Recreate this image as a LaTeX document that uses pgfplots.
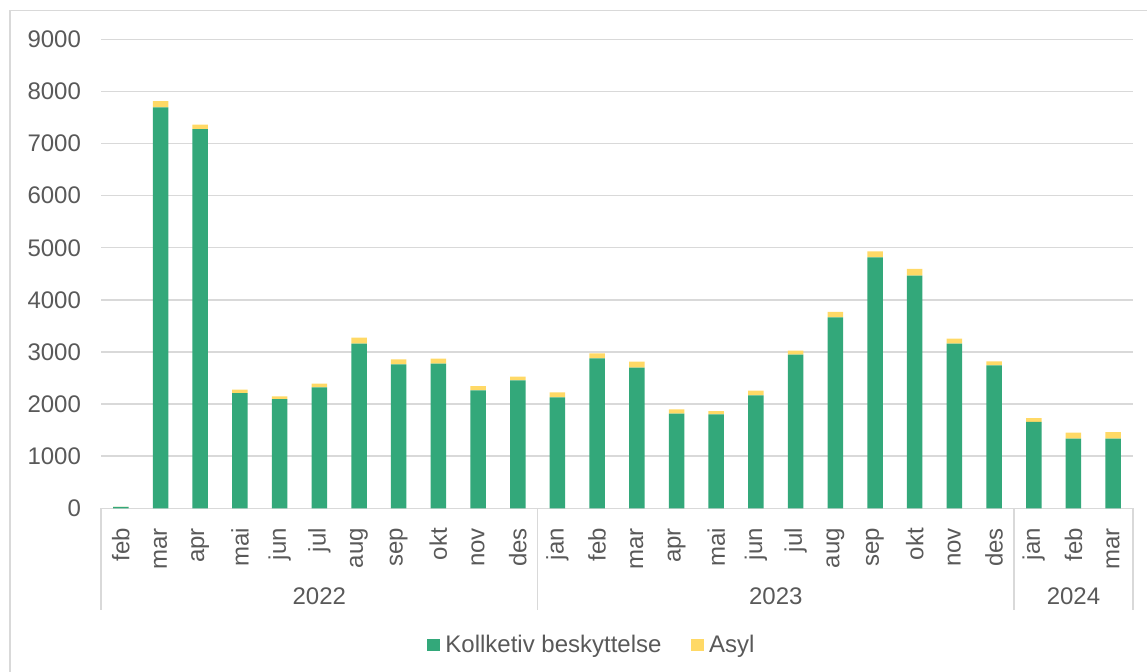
\documentclass[border=0pt]{standalone}
\usepackage{fontspec}
\setmainfont{Liberation Sans}
\usepackage{pgfplots}
\pgfplotsset{compat=1.18}
\definecolor{kgreen}{HTML}{33A87A}
\definecolor{kyellow}{HTML}{FFD966}
\definecolor{textgray}{HTML}{595959}
\definecolor{gridgray}{HTML}{D9D9D9}
\begin{document}
\begin{tikzpicture}[x=1pt,y=1pt]
\useasboundingbox (0,0) rectangle (573.5,336);
\draw[gridgray, line width=0.65pt] (5,0) -- (5,330.65) -- (573.5,330.65);
\begin{axis}[
  at={(50.5pt,81.85pt)}, anchor=south west,
  scale only axis, width=516pt, height=234.5pt,
  ybar stacked, bar width=7.75pt,
  xmin=-0.5, xmax=25.5, ymin=0, ymax=9000,
  ytick={0,1000,...,9000},
  xtick={0,...,25},
  xticklabels={feb,mar,apr,mai,jun,jul,aug,sep,okt,nov,des,jan,feb,mar,apr,mai,jun,jul,aug,sep,okt,nov,des,jan,feb,mar},
  major tick length=0pt,
  axis line style={draw=none},
  ymajorgrids, grid style={gridgray, line width=0.75pt},
  /pgf/number format/.cd, 1000 sep={}, assume math mode=true, /pgfplots/.cd,
  yticklabel style={font=\fontsize{12}{14}\selectfont, text=textgray},
  xticklabel style={font=\fontsize{12}{14}\selectfont, text=textgray, rotate=90, anchor=east},
  yticklabel shift=6.5pt,
  xticklabel shift=6.4pt,
  clip=false,
  legend style={draw=none, fill=none, at={(0.4775,-0.2915)}, anchor=center,
    legend columns=2, font=\fontsize{12}{14}\selectfont, text=textgray,
    /tikz/every even column/.append style={column sep=12pt},
    nodes={inner xsep=2.8pt}},
  legend image code/.code={\fill[#1] (0pt,-3.1pt) rectangle (6.2pt,3.1pt);},
]
\addplot[fill=kgreen, draw=none] coordinates {
(0,25) (1,7692) (2,7275) (3,2211) (4,2096) (5,2319) (6,3160) (7,2762) (8,2775) (9,2262) (10,2454)
(11,2127) (12,2877) (13,2698) (14,1819) (15,1800) (16,2165) (17,2948) (18,3665) (19,4813) (20,4467) (21,3160) (22,2742)
(23,1660) (24,1338) (25,1338)};
\addplot[fill=kyellow, draw=none] coordinates {
(0,3) (1,121) (2,90) (3,64) (4,50) (5,71) (6,115) (7,96) (8,96) (9,84) (10,71)
(11,96) (12,96) (13,115) (14,77) (15,65) (16,91) (17,77) (18,104) (19,116) (20,129) (21,96) (22,77)
(23,71) (24,116) (25,124)};
\legend{Kollketiv beskyttelse, Asyl}
\draw[gridgray, line width=0.75pt] (axis cs:-0.5,0) -- ++(0pt,-51pt);
\draw[gridgray, line width=0.75pt] (axis cs:10.5,0) -- ++(0pt,-51pt);
\draw[gridgray, line width=0.75pt] (axis cs:22.5,0) -- ++(0pt,-51pt);
\draw[gridgray, line width=0.75pt] (axis cs:25.5,0) -- ++(0pt,-51pt);
\node[font=\fontsize{12}{14}\selectfont, text=textgray, yshift=-43.85pt] at (axis cs:5,0) {2022};
\node[font=\fontsize{12}{14}\selectfont, text=textgray, yshift=-43.85pt] at (axis cs:16.5,0) {2023};
\node[font=\fontsize{12}{14}\selectfont, text=textgray, yshift=-43.85pt] at (axis cs:24,0) {2024};
\end{axis}
\end{tikzpicture}
\end{document}
